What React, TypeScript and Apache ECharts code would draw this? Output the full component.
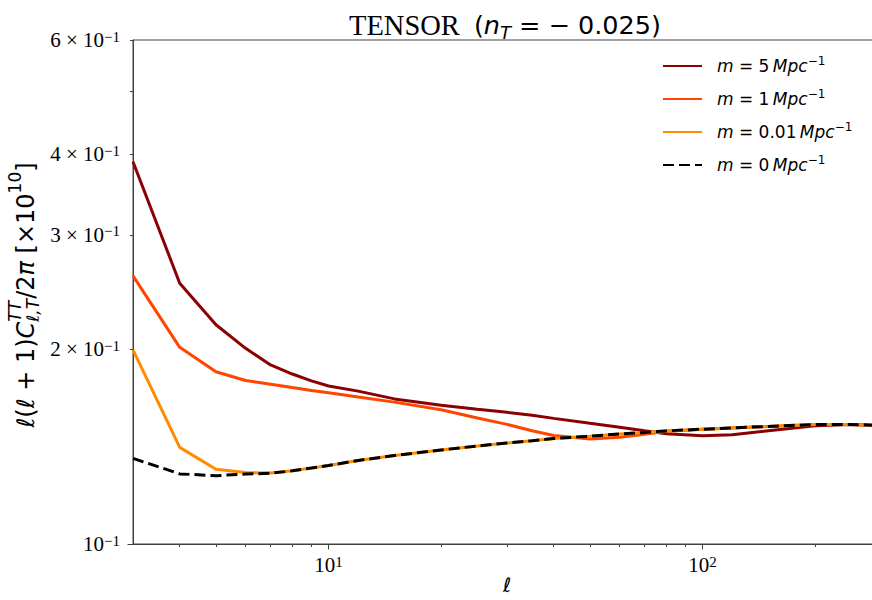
import React, { useEffect, useRef } from 'react';
import * as echarts from 'echarts';

// multipole ℓ
const ells = [3, 4, 5, 6, 7, 8, 9, 10, 12, 15, 20, 25, 30, 35, 40, 50, 60, 70, 80, 100, 120, 150, 200, 250, 300];
// ℓ(ℓ+1)C/2π [×10^10]
const m5 = [0.3893, 0.2527, 0.218, 0.2005, 0.189, 0.183, 0.1786, 0.1754, 0.1722, 0.1675, 0.1638, 0.1614, 0.1597, 0.158, 0.1563, 0.1536, 0.1515, 0.1496, 0.148, 0.147, 0.1475, 0.1496, 0.1522, 0.153, 0.1524];
const m1 = [0.2594, 0.2012, 0.1845, 0.1788, 0.1765, 0.1744, 0.1726, 0.1712, 0.1686, 0.1656, 0.1612, 0.1565, 0.153, 0.1496, 0.1471, 0.1452, 0.1461, 0.1477, 0.1493, 0.1504, 0.1511, 0.1519, 0.1529, 0.153, 0.1524];
const m001 = [0.1994, 0.141, 0.1304, 0.1289, 0.1287, 0.1297, 0.131, 0.1322, 0.1346, 0.137, 0.1397, 0.1417, 0.1432, 0.1444, 0.1455, 0.1467, 0.1479, 0.1487, 0.1495, 0.1504, 0.1511, 0.1519, 0.1529, 0.153, 0.1524];
const m0 = [0.1356, 0.1283, 0.1275, 0.1282, 0.1286, 0.1297, 0.131, 0.1322, 0.1346, 0.137, 0.1397, 0.1417, 0.1432, 0.1444, 0.1455, 0.1467, 0.1479, 0.1487, 0.1495, 0.1504, 0.1511, 0.1519, 0.1529, 0.153, 0.1524];

const seriesNames = ['m5', 'm1', 'm001', 'm0'];
const legendTexts: Record<string, string> = {
  m5: '5',
  m1: '1',
  m001: '0.01',
  m0: '0',
};
const seriesColors = ['#8b0000', '#ff4500', '#ff8c00', '#000000'];

const xRange = [3, 300];
const yRange = [0.1, 0.6];
const xMajorTicks = [10, 100];
const xMinorTicks = [4, 5, 6, 7, 8, 9, 20, 30, 40, 50, 60, 70, 80, 90, 200];
const yLabelTicks = [0.1, 0.2, 0.3, 0.4, 0.6];
const yMajorTicks = [0.1];
const yMinorTicks = [0.2, 0.3, 0.4, 0.5, 0.6];

const L = Math.log10;
const AX = '#404040';
const SERIF = '"Liberation Serif", "Times New Roman", serif';
const SANS = '"DejaVu Sans", sans-serif';

const tickRich = {
  b: { fontFamily: SERIF, fontSize: 21, fontWeight: 'normal', color: '#000', lineHeight: 22 },
  s: { fontFamily: SERIF, fontSize: 15, fontWeight: 'normal', color: '#000', lineHeight: 12, verticalAlign: 'top' },
};

function buildYLabel() {
  const ctx = document.createElement('canvas').getContext('2d')!;
  type P = { t: string; it?: boolean; size?: number; dy?: number; stack?: boolean };
  const MAIN = 24;
  const SCR = 17;
  const pieces: P[] = [
    { t: 'ℓ', it: true },
    { t: '(' },
    { t: 'ℓ', it: true },
    { t: ' + 1)' },
    { t: 'C', it: true },
    { t: 'TT', it: true, size: SCR, dy: -11, stack: true },
    { t: 'ℓ,T', it: true, size: SCR, dy: 7 },
    { t: '/2' },
    { t: 'π', it: true },
    { t: ' [×10' },
    { t: '10', size: SCR, dy: -11 },
    { t: ']' },
  ];
  const placed: { t: string; x: number; dy: number; size: number; it: boolean }[] = [];
  let x = 0;
  let pending = 0;
  for (const p of pieces) {
    const size = p.size ?? MAIN;
    ctx.font = `${p.it ? 'italic ' : ''}${size}px ${SANS}`;
    const w = ctx.measureText(p.t).width;
    placed.push({ t: p.t, x, dy: p.dy ?? 0, size, it: !!p.it });
    if (p.stack) {
      pending = Math.max(pending, w);
    } else {
      x += Math.max(pending, w);
      pending = 0;
    }
  }
  const total = x;
  return placed.map((p) => ({
    type: 'text',
    x: p.x - total / 2,
    y: p.dy,
    style: {
      text: p.t,
      fontFamily: SANS,
      fontSize: p.size,
      fontStyle: p.it ? 'italic' : 'normal',
      fill: '#000',
      align: 'left',
      verticalAlign: 'middle',
    },
  }));
}

export default function App() {
  const ref = useRef<HTMLDivElement>(null);
  useEffect(() => {
    if (!ref.current) return;
    const chart = echarts.init(ref.current, undefined, { renderer: 'svg' });
    const series = [m5, m1, m001, m0].map((vals, i) => ({
      name: seriesNames[i],
      type: 'line',
      xAxisIndex: 0,
      yAxisIndex: 0,
      symbol: 'none',
      showSymbol: false,
      smooth: false,
      data: ells.map((l, j) => [L(l), L(vals[j])]),
      lineStyle: {
        color: seriesColors[i],
        width: 3,
        type: i === 3 ? [11, 5] : 'solid',
      },
      itemStyle: { color: seriesColors[i] },
      z: 2 + i,
    }));

    const xMin = L(xRange[0]);
    const xMax = L(xRange[1]);
    const yMin = L(yRange[0]);
    const yMax = L(yRange[1]);

    chart.setOption({
      animation: false,
      backgroundColor: '#fff',
      title: {
        text: '{s|TENSOR}{g|}{p|(}{i|n}{sub|T}{p| = − 0.025)}',
        left: 500,
        top: 4,
        textAlign: 'center',
        textStyle: {
          fontWeight: 'normal',
          rich: {
            s: { fontFamily: SERIF, fontSize: 28.5, fontWeight: 'normal', color: '#000', lineHeight: 32 },
            g: { width: 14, lineHeight: 32 },
            p: { fontFamily: SANS, fontSize: 25.5, fontWeight: 'normal', color: '#000', lineHeight: 32 },
            i: { fontFamily: SANS, fontSize: 25.5, fontWeight: 'normal', fontStyle: 'italic', color: '#000', lineHeight: 32 },
            sub: { fontFamily: SANS, fontSize: 18, fontWeight: 'normal', fontStyle: 'italic', color: '#000', lineHeight: 16, verticalAlign: 'bottom' },
          },
        },
      },
      legend: {
        orient: 'vertical',
        left: 662,
        top: 55,
        padding: 0,
        itemWidth: 39,
        itemHeight: 12,
        itemGap: 13.5,
        data: seriesNames,
        itemStyle: { opacity: 0, color: 'transparent', borderWidth: 0 },
        formatter: (name: string) => `{i|m}{n| = ${legendTexts[name]}\u2009}{i|Mpc}{s|−1}`,
        textStyle: {
          padding: [0, 0, 0, 10],
          rich: {
            i: { fontFamily: SANS, fontSize: 17, fontStyle: 'italic', color: '#000', lineHeight: 22 },
            n: { fontFamily: SANS, fontSize: 17, color: '#000', lineHeight: 22 },
            s: { fontFamily: SANS, fontSize: 12, color: '#000', lineHeight: 10, verticalAlign: 'top' },
          },
        },
      },
      grid: {
        left: 133,
        right: -9,
        top: 40,
        bottom: 56,
        outerBoundsMode: 'none',
        containLabel: false,
        show: true,
        borderColor: AX,
        borderWidth: 1,
        backgroundColor: 'transparent',
      },
      xAxis: [
        {
          type: 'value',
          position: 'bottom',
          min: xMin,
          max: xMax,
          axisLine: { show: true, lineStyle: { color: AX, width: 1 } },
          axisTick: { show: true, customValues: xMajorTicks.map(L), length: 5.5, lineStyle: { color: AX, width: 1 } },
          axisLabel: {
            show: true,
            customValues: xMajorTicks.map(L),
            margin: 10,
            fontSize: 21,
            fontFamily: SERIF,
            color: '#000',
            formatter: (v: number) => `{b|10}{s|${Math.round(v)}}`,
            rich: tickRich,
          },
          splitLine: { show: false },
          name: 'ℓ',
          nameLocation: 'middle',
          nameGap: 31,
          nameMoveOverlap: false,
          nameTextStyle: { fontFamily: SANS, fontStyle: 'italic', fontSize: 20, lineHeight: 20, verticalAlign: 'top', color: '#000' },
        },
        {
          type: 'value',
          position: 'bottom',
          min: xMin,
          max: xMax,
          axisLine: { show: false },
          axisTick: { show: true, customValues: xMinorTicks.map(L), length: 3, lineStyle: { color: AX, width: 1 } },
          axisLabel: { show: false },
          splitLine: { show: false },
        },
      ],
      yAxis: [
        {
          type: 'value',
          position: 'left',
          min: yMin,
          max: yMax,
          axisLine: { show: true, lineStyle: { color: AX, width: 1 } },
          axisTick: { show: true, customValues: yMajorTicks.map(L), length: 5.5, lineStyle: { color: AX, width: 1 } },
          axisLabel: {
            show: true,
            customValues: yLabelTicks.map(L),
            margin: 13,
            fontSize: 21,
            fontFamily: SERIF,
            color: '#000',
            formatter: (v: number) => {
              const k = Math.round(Math.pow(10, v) * 10);
              return k === 1 ? '{b|10}{s|−1}' : `{b|${k} × 10}{s|−1}`;
            },
            rich: tickRich,
          },
          splitLine: { show: false },
        },
        {
          type: 'value',
          position: 'left',
          min: yMin,
          max: yMax,
          axisLine: { show: false },
          axisTick: { show: true, customValues: yMinorTicks.map(L), length: 3, lineStyle: { color: AX, width: 1 } },
          axisLabel: { show: false },
          splitLine: { show: false },
        },
      ],
      graphic: [
        {
          type: 'group',
          x: 26,
          y: 295,
          rotation: Math.PI / 2,
          children: buildYLabel(),
        },
      ],
      series,
    });
    return () => chart.dispose();
  }, []);
  return <div ref={ref} style={{ position: 'fixed', left: 0, top: 0, width: 872, height: 600 }} />;
}
